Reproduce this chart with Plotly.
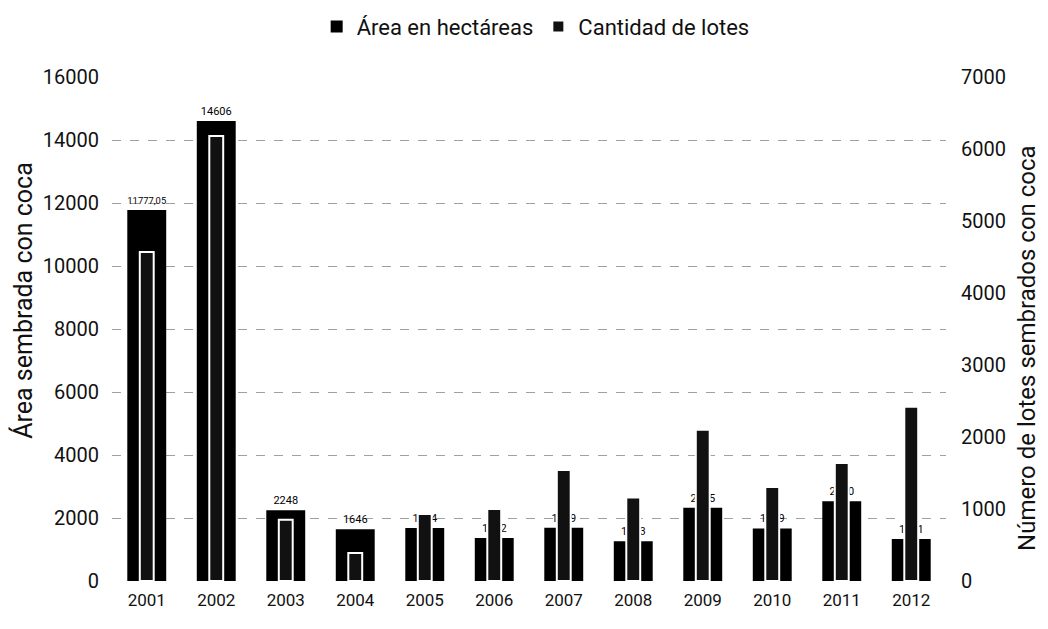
import plotly.graph_objects as go

years = ["2001", "2002", "2003", "2004", "2005", "2006", "2007", "2008", "2009", "2010", "2011", "2012"]
area_ha = [11777.05, 14606, 2248, 1646, 1684, 1362, 1689, 1263, 2325, 1669, 2530, 1331]
area_labels = ["11777,05", "14606", "2248", "1646", "1684", "1362", "1689", "1263", "2325", "1669", "2530", "1331"]
lotes = [4570, 6180, 850, 390, 930, 1000, 1540, 1160, 2100, 1305, 1640, 2420]

FONT = "Roboto, Liberation Sans, Arial, sans-serif"

fig = go.Figure()
fig.add_trace(go.Bar(
    x=years, y=area_ha, name="Área en hectáreas",
    marker=dict(color="#000000", line=dict(width=0)),
    width=0.56, offset=-0.28,
    text=area_labels, textposition="outside",
    textfont=dict(size=11, color="#000000", family=FONT),
    cliponaxis=False, yaxis="y",
))
fig.add_trace(go.Bar(
    x=years, y=lotes, name="Cantidad de lotes",
    marker=dict(color="#111111", line=dict(width=2, color="#ffffff")),
    width=0.2, offset=-0.1, yaxis="y2",
))

fig.update_layout(
    width=1048, height=629,
    margin=dict(l=104, r=110, t=69, b=56, autoexpand=False),
    paper_bgcolor="white", plot_bgcolor="white",
    font=dict(family=FONT, size=20, color="#111111"),
    barmode="overlay",
    showlegend=True,
    legend=dict(orientation="h", x=0.508, xanchor="center", y=1.1, yanchor="middle",
                font=dict(size=22), traceorder="normal", itemwidth=30),
    xaxis=dict(type="category", showgrid=False, zeroline=False, showline=False,
               ticks="", tickfont=dict(size=17), ticklabelstandoff=7),
    yaxis=dict(range=[0, 16000], dtick=2000, tickformat="d", showgrid=True, gridcolor="#a0a0a0",
               griddash="dash", gridwidth=1, zeroline=False, showline=False,
               tickfont=dict(size=20), ticklabelstandoff=12),
    yaxis2=dict(range=[0, 7000], dtick=1000, tickformat="d", overlaying="y", side="right",
                showgrid=False, zeroline=False, showline=False,
                tickfont=dict(size=20), ticklabelstandoff=14),
    annotations=[
        dict(text="Área sembrada con coca", xref="paper", yref="paper",
             x=-0.1067, y=0.556, xanchor="center", yanchor="middle", textangle=-90,
             showarrow=False, font=dict(size=25, color="#111111")),
        dict(text="Número de lotes sembrados con coca", xref="paper", yref="paper",
             x=1.097, y=0.4623, xanchor="center", yanchor="middle", textangle=-90,
             showarrow=False, font=dict(size=24, color="#111111")),
    ],
)

fig.write_html("out.html")
